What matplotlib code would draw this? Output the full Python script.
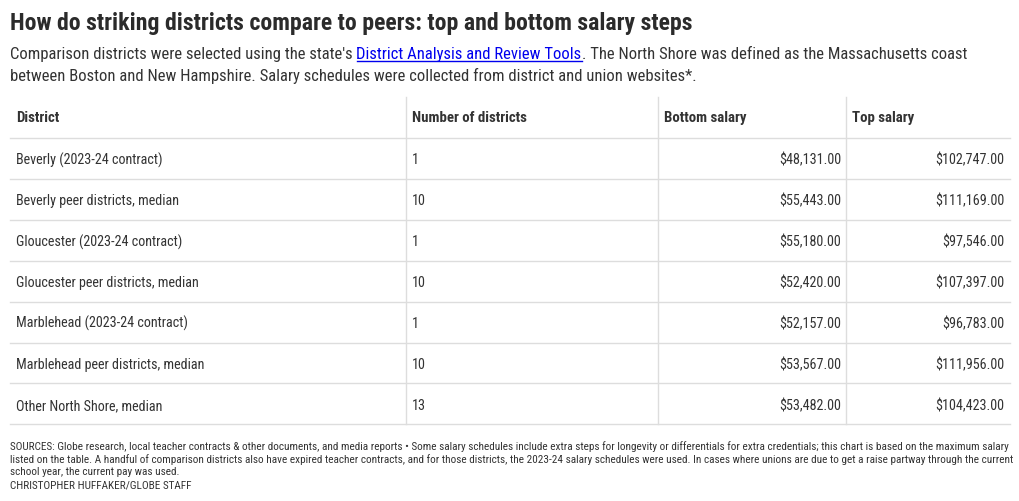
import matplotlib
matplotlib.use("Agg")
import matplotlib.pyplot as plt
from matplotlib.transforms import Affine2D
from matplotlib.lines import Line2D
from matplotlib import font_manager

# ---------------- data ----------------
title = "How do striking districts compare to peers: top and bottom salary steps"
sub1_pre = "Comparison districts were selected using the state's "
sub1_link = "District Analysis and Review Tools"
sub1_post = ". The North Shore was defined as the Massachusetts coast"
sub2 = "between Boston and New Hampshire. Salary schedules were collected from district and union websites*."
headers = ["District", "Number of districts", "Bottom salary", "Top salary"]
districts = ["Beverly (2023-24 contract)", "Beverly peer districts, median",
             "Gloucester (2023-24 contract)", "Gloucester peer districts, median",
             "Marblehead (2023-24 contract)", "Marblehead peer districts, median",
             "Other North Shore, median"]
n_districts = [1, 10, 1, 10, 1, 10, 13]
bottom_salary = [48131.00, 55443.00, 55180.00, 52420.00, 52157.00, 53567.00, 53482.00]
top_salary = [102747.00, 111169.00, 97546.00, 107397.00, 96783.00, 111956.00, 104423.00]
footer_lines = [
    "SOURCES: Globe research, local teacher contracts & other documents, and media reports \u2022 Some salary schedules include extra steps for longevity or differentials for extra credentials; this chart is based on the maximum salary",
    "listed on the table. A handful of comparison districts also have expired teacher contracts, and for those districts, the 2023-24 salary schedules were used. In cases where unions are due to get a raise partway through the current",
    "school year, the current pay was used.",
    "CHRISTOPHER HUFFAKER/GLOBE STAFF",
]

# ---------------- font choice ----------------
names = sorted({f.name for f in font_manager.fontManager.ttflist})
cond = [n for n in names if ("Condensed" in n or "Narrow" in n)]
pref = [n for n in ["Roboto Condensed", "Liberation Sans Narrow", "Open Sans Condensed"] if n in names]
base = pref[0] if pref else (cond[0] if cond else "Roboto")
FONT = [base, "DejaVu Sans"]

# ---------------- layout ----------------
W, H = 1020, 502
TXT = "#333333"
GRID = "#dddddd"

fig = plt.figure(figsize=(W / 100, H / 100), dpi=100)
fig.patch.set_facecolor("white")
T = Affine2D().scale(1, -1).translate(0, H)
renderer = fig.canvas.get_renderer()


def text(x, y, s, size, weight="normal", color=TXT, ha="left", va="baseline"):
    return fig.text(x, y, s, transform=T, fontsize=size, fontweight=weight,
                    color=color, ha=ha, va=va, family=FONT)


def fit_size(s, target, weight="normal"):
    t = fig.text(0, 0, s, fontsize=20, fontweight=weight, family=FONT)
    w = t.get_window_extent(renderer).width
    t.remove()
    return 20 * target / w


def hline(x0, x1, y, color=GRID, lw=1):
    fig.add_artist(Line2D([x0, x1], [y, y], transform=T, color=color, lw=lw))


def vline(x, y0, y1, color=GRID, lw=1):
    fig.add_artist(Line2D([x, x], [y0, y1], transform=T, color=color, lw=lw))


text(10, 30, title, fit_size(title, 678, "bold"), weight="bold", color="#2b2b2b")

# subtitle with link
s_sub = fit_size(sub1_pre + sub1_link + sub1_post, 955)
t1 = text(10, 59, sub1_pre, s_sub)
bb = t1.get_window_extent(renderer)
t2 = text(bb.x1, 59, sub1_link, s_sub, color="#0000ee")
bb2 = t2.get_window_extent(renderer)
fig.add_artist(Line2D([bb2.x0, bb2.x1], [61.5, 61.5], transform=T, color="#0000ee", lw=1))
text(bb2.x1, 59, sub1_post, s_sub)
text(10, 81, sub2, s_sub)

# table
col_x = [10, 406, 658, 846, 1010]
top_y = 98
row_h = 40.9
header_bottom = 139
n = len(districts)
row_lines = [header_bottom + i * row_h for i in range(n + 1)]
for y in row_lines:
    hline(col_x[0], col_x[-1], y)
for cx in col_x[1:4]:
    vline(cx, top_y, row_lines[-1])

s_head = fit_size(headers[1], 115, "bold")
for j, h in enumerate(headers):
    text(col_x[j] + 6, 122, h, s_head, weight="bold")

s_body = fit_size(districts[3], 183)
for i in range(n):
    yb = row_lines[i] + row_h / 2 + 5
    text(col_x[0] + 6, yb, districts[i], s_body)
    text(col_x[1] + 6, yb, str(n_districts[i]), s_body)
    text(col_x[3] - 5, yb, f"${bottom_salary[i]:,.2f}", s_body, ha="right")
    text(col_x[4] - 6, yb, f"${top_salary[i]:,.2f}", s_body, ha="right")

s_foot = fit_size(footer_lines[0], 998)
for k, line in enumerate(footer_lines):
    text(10, 450 + k * 12.7, line, s_foot)

fig.savefig("out.png", dpi=100, facecolor="white")
